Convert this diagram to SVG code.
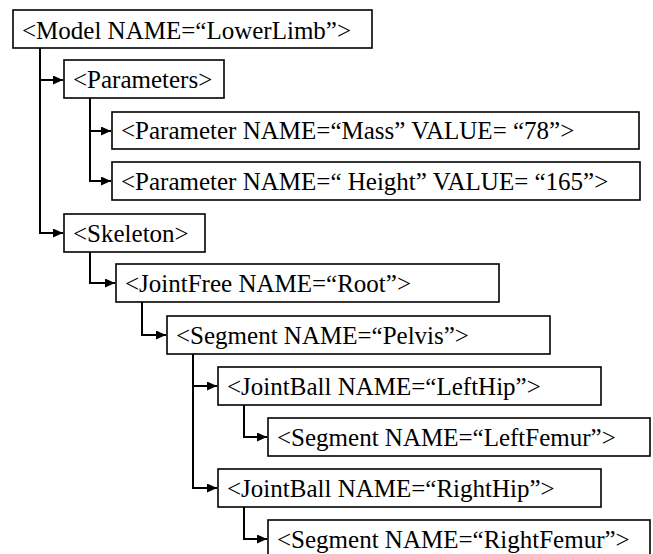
<svg xmlns="http://www.w3.org/2000/svg" width="653" height="554" viewBox="0 0 653 554">
<style>
rect.box{fill:#fff;stroke:#000;stroke-width:1.6}
text{font-family:'Liberation Serif','Times New Roman',serif;font-size:25px;fill:#000}
path.c{fill:none;stroke:#000;stroke-width:2}
</style>
<defs>
<marker id="ah" markerUnits="userSpaceOnUse" markerWidth="10" markerHeight="9" viewBox="0 0 10 9" refX="10" refY="4.5" orient="auto">
<path d="M0,0 L10,4.5 L0,9 z" fill="#000"/>
</marker>
</defs>
<g id="connectors">
<path class="c" d="M40,48 V80 H63" marker-end="url(#ah)"/>
<path class="c" d="M40,80 V233 H63" marker-end="url(#ah)"/>
<path class="c" d="M90,98 V131 H111" marker-end="url(#ah)"/>
<path class="c" d="M90,131 V181 H111" marker-end="url(#ah)"/>
<path class="c" d="M90,252 V283 H115" marker-end="url(#ah)"/>
<path class="c" d="M142,302 V335 H166" marker-end="url(#ah)"/>
<path class="c" d="M193,354 V386 H217" marker-end="url(#ah)"/>
<path class="c" d="M193,386 V488 H217" marker-end="url(#ah)"/>
<path class="c" d="M244,405 V437 H267" marker-end="url(#ah)"/>
<path class="c" d="M244,507 V539 H267" marker-end="url(#ah)"/>
</g>
<g id="model"><rect class="box" x="13" y="10" width="359" height="38"/><text x="22" y="39">&lt;Model NAME=“LowerLimb”&gt;</text></g>
<g id="parameters"><rect class="box" x="64" y="60" width="160" height="38"/><text x="73" y="88">&lt;Parameters&gt;</text></g>
<g id="param-mass"><rect class="box" x="112" y="112" width="527" height="37"/><text x="121" y="139">&lt;Parameter NAME=“Mass” VALUE= “78”&gt;</text></g>
<g id="param-height"><rect class="box" x="112" y="162" width="528" height="38"/><text x="121" y="190">&lt;Parameter NAME=“ Height” VALUE= “165”&gt;</text></g>
<g id="skeleton"><rect class="box" x="64" y="214" width="141" height="38"/><text x="73" y="242">&lt;Skeleton&gt;</text></g>
<g id="joint-root"><rect class="box" x="116" y="264" width="383" height="38"/><text x="125" y="292">&lt;JointFree NAME=“Root”&gt;</text></g>
<g id="seg-pelvis"><rect class="box" x="167" y="316" width="383" height="38"/><text x="176" y="344">&lt;Segment NAME=“Pelvis”&gt;</text></g>
<g id="joint-lefthip"><rect class="box" x="218" y="367" width="383" height="38"/><text x="227" y="395">&lt;JointBall NAME=“LeftHip”&gt;</text></g>
<g id="seg-leftfemur"><rect class="box" x="268" y="418" width="382" height="38"/><text x="277" y="446">&lt;Segment NAME=“LeftFemur”&gt;</text></g>
<g id="joint-righthip"><rect class="box" x="218" y="469" width="383" height="38"/><text x="227" y="497">&lt;JointBall NAME=“RightHip”&gt;</text></g>
<g id="seg-rightfemur"><rect class="box" x="268" y="520" width="382" height="38"/><text x="277" y="548">&lt;Segment NAME=“RightFemur”&gt;</text></g>
</svg>
